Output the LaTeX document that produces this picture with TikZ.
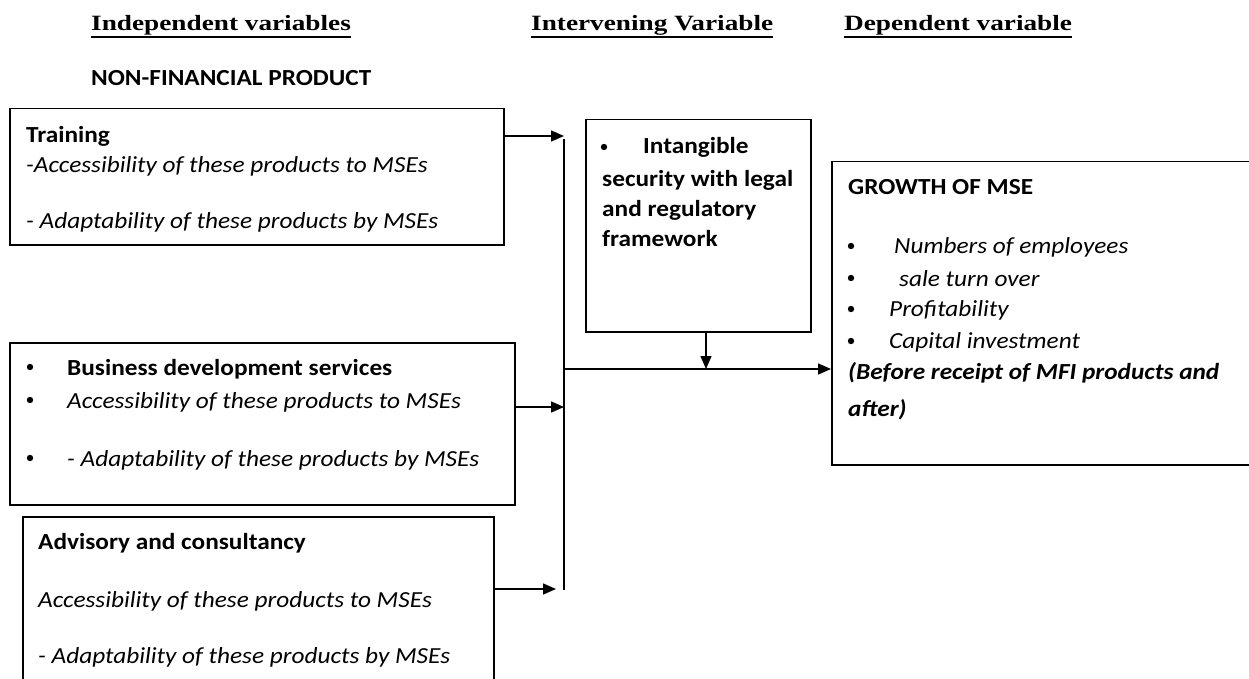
\documentclass[tikz,border=0pt]{standalone}
\usepackage{fontspec}
\usetikzlibrary{arrows.meta}
\newfontfamily\bodyfont[FakeStretch=1.1]{Carlito}
\newfontfamily\headfont[FakeStretch=1.25]{Liberation Serif}
\begin{document}
\begin{tikzpicture}[x=1pt,y=-1pt,
  box/.style={draw, line width=1.5pt, inner sep=0pt, anchor=north west},
  txt/.style={anchor=base west, inner sep=0pt, font=\bodyfont\fontsize{23}{27}\selectfont},
  btxt/.style={anchor=base west, inner sep=0pt, font=\bodyfont\fontsize{23}{27}\selectfont\bfseries},
  itxt/.style={anchor=base west, inner sep=0pt, font=\bodyfont\fontsize{23}{27}\selectfont\itshape},
  bitxt/.style={anchor=base west, inner sep=0pt, font=\bodyfont\fontsize{23}{27}\selectfont\bfseries\itshape},
  head/.style={anchor=base west, inner sep=0pt, font=\headfont\fontsize{21.8}{25}\selectfont\bfseries},
  uline/.style={line width=2.6pt},
  conn/.style={line width=1.5pt},
  arr/.style={line width=1.5pt, -{Triangle[length=13pt,width=11pt]}},
  dot/.style={fill=black}
]
\clip (0,0) rectangle (1249,679);
\fill[white] (0,0) rectangle (1249,679);

% headings
\node[head] (h1) at (91,31) {Independent variables};
\node[head] (h2) at (531,31) {Intervening Variable};
\node[head] (h3) at (844,31) {Dependent variable};
\foreach \h in {h1,h2,h3}
  \draw[uline] ([yshift=-6pt]\h.base west) -- ([yshift=-6pt]\h.base east);

\node[btxt] (nfp) at (91,86) {NON-FINANCIAL PRODUCT};

% boxes
\node[box, minimum width=494pt, minimum height=136pt] (train) at (9,108) {};
\node[box, minimum width=505pt, minimum height=162pt] (bds) at (9,342) {};
\node[box, minimum width=471pt, minimum height=200pt] (adv) at (22,516) {};
\node[box, minimum width=225pt, minimum height=212pt] (intang) at (585,119) {};
\node[box, minimum width=440pt, minimum height=303pt] (growth) at (831,161) {};

% training text
\node[btxt] (t1) at (26,143) {Training};
\node[itxt] (t2) at (26,173) {-Accessibility of these products to MSEs};
\node[itxt] (t3) at (26,228) {- Adaptability of these products by MSEs};

% BDS text
\fill[dot] (30,367) circle (3.2);
\fill[dot] (30,400) circle (3.2);
\fill[dot] (30,458) circle (3.2);
\node[btxt] (b1) at (67,375) {Business development services};
\node[itxt] (b2) at (67,408) {Accessibility of these products to MSEs};
\node[itxt] (b3) at (67,466) {- Adaptability of these products by MSEs};

% advisory text
\node[btxt] (a1) at (38,549) {Advisory and consultancy};
\node[itxt] (a2) at (38,607) {Accessibility of these products to MSEs};
\node[itxt] (a3) at (38,663) {- Adaptability of these products by MSEs};

% intangible text
\fill[dot] (604,147) circle (3.2);
\node[btxt] (i1) at (643,154) {Intangible};
\node[btxt] (i2) at (602,186) {security with legal};
\node[btxt] (i3) at (602,216) {and regulatory};
\node[btxt] (i4) at (602,246) {framework};

% growth text
\node[btxt] (g0) at (848,194) {GROWTH OF MSE};
\fill[dot] (851,246) circle (3.2);
\fill[dot] (851,278) circle (3.2);
\fill[dot] (851,309) circle (3.2);
\fill[dot] (851,341) circle (3.2);
\node[itxt] (g1) at (894,253) {Numbers of employees};
\node[itxt] (g2) at (899,286) {sale turn over};
\node[itxt] (g3) at (889,316) {Profitability};
\node[itxt] (g4) at (889,348) {Capital investment};
\node[bitxt] (g5) at (848,379) {(Before receipt of MFI products and};
\node[bitxt] (g6) at (848,416) {after)};

% connectors
\coordinate (jt) at (564,136);
\coordinate (jtop) at (564,139);
\coordinate (jb) at (564,590);
\coordinate (jbds) at (564,407);
\coordinate (jadv) at (556,589);
\coordinate (jm) at (564,369);
\coordinate (jx) at (706,369);

\draw[arr] (train.east |- jt) -- (jt);
\draw[conn] (jtop) -- (jb);
\draw[arr] (bds.east |- jbds) -- (jbds);
\draw[arr] (adv.east |- jadv) -- (jadv);
\draw[arr] (jm) -- (growth.west |- jm);
\draw[arr] (intang.south -| jx) -- (jx);
\end{tikzpicture}
\end{document}
